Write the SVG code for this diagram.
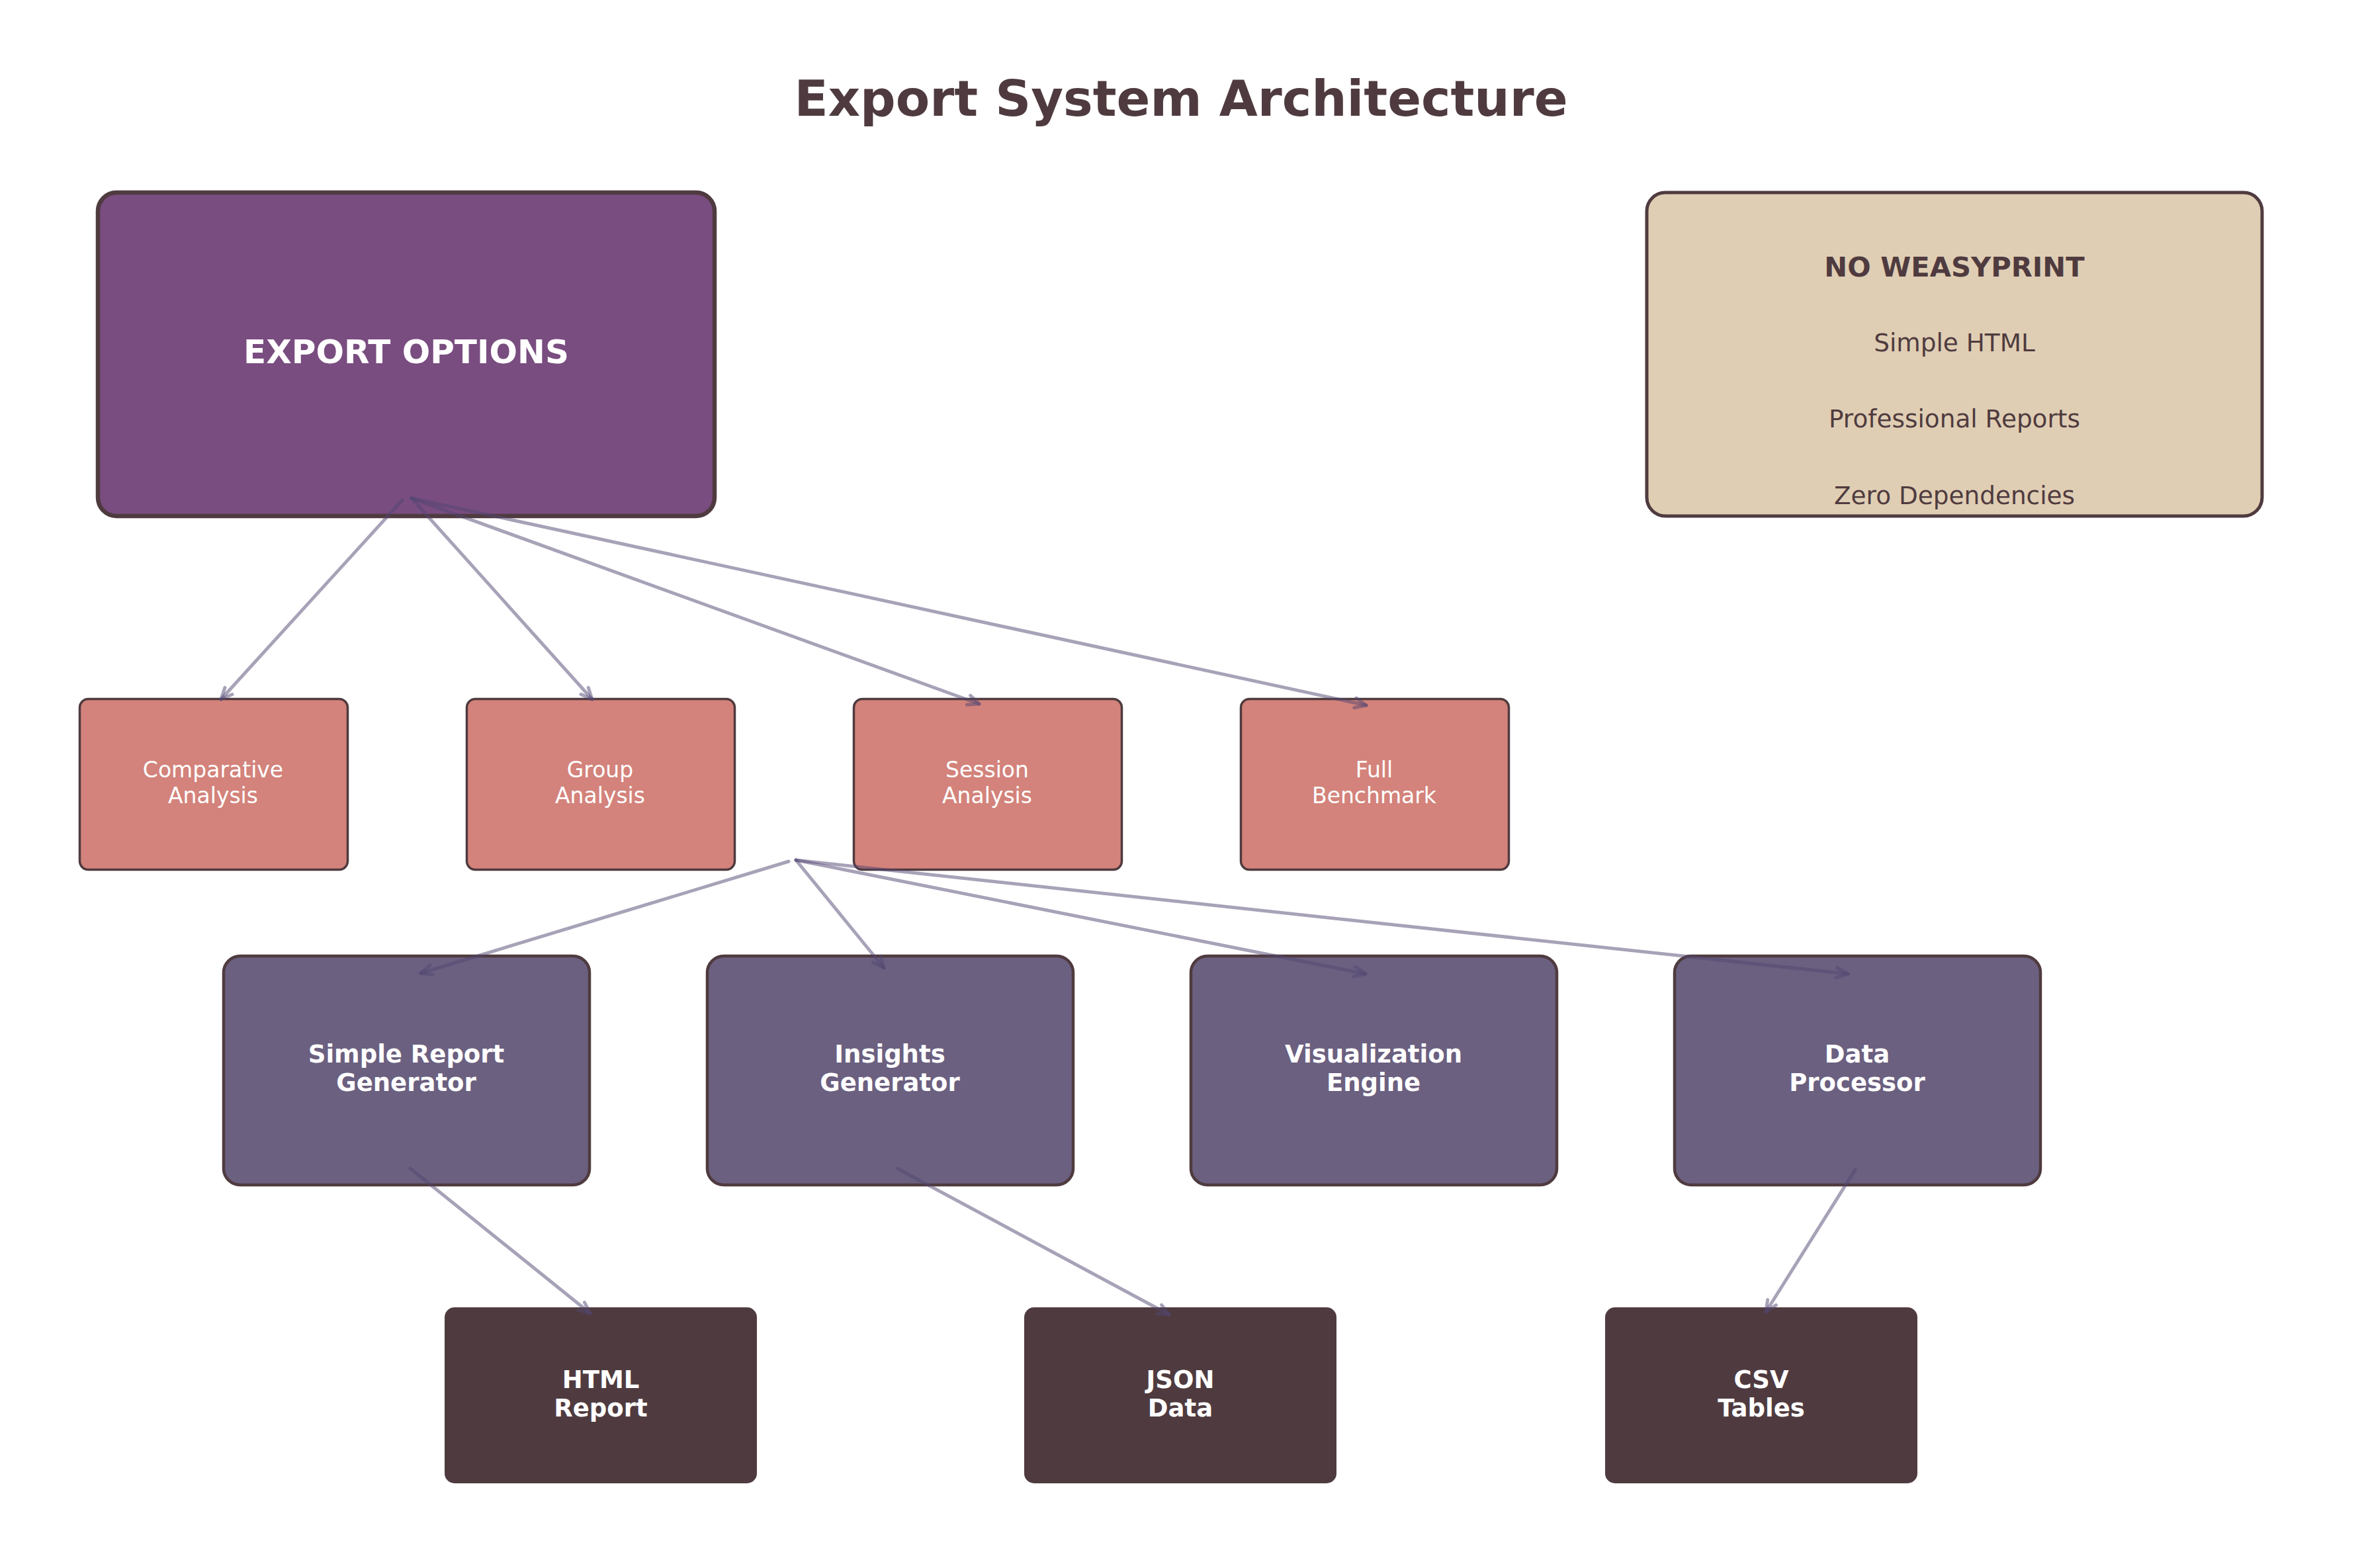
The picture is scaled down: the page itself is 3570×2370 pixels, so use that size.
<svg xmlns="http://www.w3.org/2000/svg" width="3570" height="2370" viewBox="0 0 3570 2370">
  <defs>
    <style>
      text { font-family: "DejaVu Sans", "Liberation Sans", sans-serif; text-anchor: middle; }
      .title { font-size: 75px; font-weight: bold; fill: #4f3b3f; }
      .main { font-size: 50px; font-weight: bold; fill: #ffffff; }
      .note-h { font-size: 41.7px; font-weight: bold; fill: #4f3b3f; }
      .note { font-size: 37.4px; fill: #4f3b3f; }
      .t2 { font-size: 33px; fill: #ffffff; }
      .t3 { font-size: 37px; font-weight: bold; fill: #ffffff; }
      .t4 { font-size: 37px; font-weight: bold; fill: #ffffff; }
      .b1 { fill: #794d80; stroke: #4f3b3f; stroke-width: 6.5; }
      .bn { fill: #e0ceb4; stroke: #4f3b3f; stroke-width: 5; }
      .b2 { fill: #d3837b; stroke: #4f3b3f; stroke-width: 3.5; }
      .b3 { fill: #6b6080; stroke: #4f3b3f; stroke-width: 4.5; }
      .b4 { fill: #4f3b3f; }
      .edge { fill: none; stroke: #514571; stroke-opacity: 0.5; stroke-width: 5; stroke-linecap: round; marker-end: url(#arrow); }
    </style>
    <marker id="arrow" markerUnits="userSpaceOnUse" markerWidth="40" markerHeight="40" viewBox="-30 -20 40 40" refX="0" refY="0" orient="auto" overflow="visible">
      <path d="M-17,-7.5 L0,0 L-17,7.5" fill="none" stroke="#514571" stroke-opacity="0.5" stroke-width="5" stroke-linecap="round" stroke-linejoin="round"/>
    </marker>
  </defs>

  <rect x="0" y="0" width="3570" height="2370" fill="#ffffff"/>

  <text class="title" x="1785" y="175">Export System Architecture</text>

  <g id="node-export-options">
    <rect class="b1" x="148" y="291" width="932" height="489" rx="28"/>
    <text class="main" x="614" y="549">EXPORT OPTIONS</text>
  </g>

  <g id="node-no-weasyprint">
    <rect class="bn" x="2489" y="291" width="930" height="489" rx="28"/>
    <text class="note-h" x="2954" y="418">NO WEASYPRINT</text>
    <text class="note" x="2954" y="531">Simple HTML</text>
    <text class="note" x="2954" y="646">Professional Reports</text>
    <text class="note" x="2954" y="762">Zero Dependencies</text>
  </g>

  <g id="node-comparative-analysis">
    <rect class="b2" x="120.5" y="1056.5" width="405" height="258" rx="13"/>
    <text class="t2" x="322" y="1175">Comparative</text>
    <text class="t2" x="322" y="1214">Analysis</text>
  </g>
  <g id="node-group-analysis">
    <rect class="b2" x="705.5" y="1056.5" width="405" height="258" rx="13"/>
    <text class="t2" x="907" y="1175">Group</text>
    <text class="t2" x="907" y="1214">Analysis</text>
  </g>
  <g id="node-session-analysis">
    <rect class="b2" x="1290.5" y="1056.5" width="405" height="258" rx="13"/>
    <text class="t2" x="1492" y="1175">Session</text>
    <text class="t2" x="1492" y="1214">Analysis</text>
  </g>
  <g id="node-full-benchmark">
    <rect class="b2" x="1875.5" y="1056.5" width="405" height="258" rx="13"/>
    <text class="t2" x="2077" y="1175">Full</text>
    <text class="t2" x="2077" y="1214">Benchmark</text>
  </g>

  <g id="node-simple-report-generator">
    <rect class="b3" x="338" y="1445" width="553" height="346" rx="25"/>
    <text class="t3" x="614" y="1606">Simple Report</text>
    <text class="t3" x="614" y="1649">Generator</text>
  </g>
  <g id="node-insights-generator">
    <rect class="b3" x="1069" y="1445" width="553" height="346" rx="25"/>
    <text class="t3" x="1345" y="1606">Insights</text>
    <text class="t3" x="1345" y="1649">Generator</text>
  </g>
  <g id="node-visualization-engine">
    <rect class="b3" x="1800" y="1445" width="553" height="346" rx="25"/>
    <text class="t3" x="2076" y="1606">Visualization</text>
    <text class="t3" x="2076" y="1649">Engine</text>
  </g>
  <g id="node-data-processor">
    <rect class="b3" x="2531" y="1445" width="553" height="346" rx="25"/>
    <text class="t3" x="2807" y="1606">Data</text>
    <text class="t3" x="2807" y="1649">Processor</text>
  </g>

  <g id="node-html-report">
    <rect class="b4" x="672" y="1976" width="472" height="266" rx="15"/>
    <text class="t4" x="908" y="2098">HTML</text>
    <text class="t4" x="908" y="2141">Report</text>
  </g>
  <g id="node-json-data">
    <rect class="b4" x="1548" y="1976" width="472" height="266" rx="15"/>
    <text class="t4" x="1784" y="2098">JSON</text>
    <text class="t4" x="1784" y="2141">Data</text>
  </g>
  <g id="node-csv-tables">
    <rect class="b4" x="2426" y="1976" width="472" height="266" rx="15"/>
    <text class="t4" x="2662" y="2098">CSV</text>
    <text class="t4" x="2662" y="2141">Tables</text>
  </g>

  <g id="connectors">
    <line class="edge" x1="608" y1="756" x2="334" y2="1057"/>
    <line class="edge" x1="622" y1="753" x2="895" y2="1057"/>
    <line class="edge" x1="622" y1="753" x2="1480" y2="1064"/>
    <line class="edge" x1="622" y1="753" x2="2065" y2="1066"/>

    <line class="edge" x1="1192" y1="1302" x2="636" y2="1471"/>
    <line class="edge" x1="1203" y1="1300" x2="1336" y2="1463"/>
    <line class="edge" x1="1203" y1="1300" x2="2064" y2="1472"/>
    <line class="edge" x1="1203" y1="1300" x2="2793" y2="1472"/>

    <line class="edge" x1="620" y1="1766" x2="892" y2="1985"/>
    <line class="edge" x1="1356" y1="1766" x2="1767" y2="1987"/>
    <line class="edge" x1="2804" y1="1768" x2="2669" y2="1983"/>
  </g>
</svg>
